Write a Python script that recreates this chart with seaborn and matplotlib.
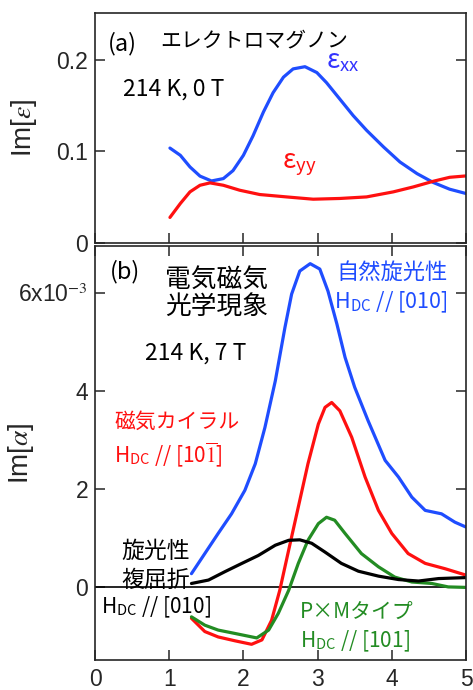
import numpy as np
import pandas as pd
import seaborn as sns
import matplotlib
matplotlib.use("Agg")
import matplotlib.pyplot as plt

# ---------------- data ----------------
# panel (a): Im[eps], 214 K, 0 T
exx_x = [1.01, 1.15, 1.28, 1.415, 1.57, 1.73, 1.86, 2.00, 2.13, 2.27, 2.40, 2.54, 2.67, 2.83, 2.99,
         3.12, 3.30, 3.48, 3.66, 3.89, 4.11, 4.34, 4.56, 4.78, 5.0]
exx_y = [0.1036, 0.0957, 0.083, 0.073, 0.0677, 0.0703, 0.079, 0.0957, 0.117, 0.143, 0.164, 0.181, 0.190,
         0.1924, 0.186, 0.175, 0.157, 0.139, 0.123, 0.1047, 0.0884, 0.0757, 0.066, 0.0587, 0.054]
eyy_x = [1.01, 1.15, 1.28, 1.415, 1.55, 1.73, 1.95, 2.22, 2.58, 2.94, 3.30, 3.66, 4.02, 4.29, 4.56,
         4.78, 5.0]
eyy_y = [0.0279, 0.0431, 0.0558, 0.063, 0.0656, 0.063, 0.0576, 0.0529, 0.0503, 0.0478, 0.0486, 0.0503,
         0.0558, 0.0612, 0.0674, 0.0717, 0.0732]

# panel (b): Im[alpha] (units of 1e-3), 214 K, 7 T
nat_x = [1.30, 1.48, 1.66, 1.84, 2.02, 2.16, 2.29, 2.43, 2.56, 2.65, 2.76, 2.90, 3.03, 3.14, 3.26,
         3.37, 3.50, 3.68, 3.91, 4.09, 4.27, 4.45, 4.67, 4.85, 5.0]
nat_y = [0.27, 0.68, 1.09, 1.49, 1.97, 2.51, 3.25, 4.20, 5.29, 5.97, 6.44, 6.59, 6.48, 6.03, 5.36,
         4.68, 4.07, 3.39, 2.58, 2.24, 1.83, 1.56, 1.49, 1.32, 1.22]
mch_x = [1.30, 1.48, 1.66, 1.89, 2.11, 2.25, 2.38, 2.49, 2.61, 2.74, 2.87, 3.01, 3.10, 3.19, 3.30,
         3.46, 3.64, 3.82, 4.00, 4.22, 4.45, 4.72, 5.0]
mch_y = [-0.64, -0.91, -1.02, -1.10, -1.17, -1.08, -0.68, -0.07, 0.75, 1.63, 2.51, 3.32, 3.66, 3.76, 3.59,
         3.05, 2.24, 1.56, 1.09, 0.68, 0.48, 0.37, 0.24]
pm_x = [1.30, 1.48, 1.66, 1.89, 2.18, 2.34, 2.47, 2.61, 2.74, 2.87, 3.01, 3.12, 3.23, 3.37, 3.59,
        3.82, 4.04, 4.27, 4.54, 4.76, 5.0]
pm_y = [-0.61, -0.78, -0.88, -0.95, -1.04, -0.88, -0.54, -0.07, 0.48, 0.95, 1.29, 1.42, 1.36, 1.09, 0.68,
        0.41, 0.20, 0.10, 0.07, 0.0, -0.01]
bir_x = [1.30, 1.53, 1.75, 1.98, 2.20, 2.43, 2.61, 2.76, 2.92, 3.10, 3.32, 3.55, 3.82, 4.09, 4.36,
         4.63, 5.0]
bir_y = [0.07, 0.14, 0.31, 0.48, 0.64, 0.85, 0.95, 0.96, 0.89, 0.71, 0.48, 0.32, 0.22, 0.15, 0.12,
         0.17, 0.19]

x_ticks = [0, 1, 2, 3, 4, 5]
x_ticklabels = ["0", "1", "2", "3", "4", "5"]
a_yticks = [0, 0.1, 0.2]
a_yticklabels = ["0", "0.1", "0.2"]
b_yticks = [0, 2, 4, 6]
b_yticklabels = ["0", "2", "4", "6x10$^{-3}$"]

# ---------------- style ----------------
sns.set_style("ticks")
plt.rcParams["font.family"] = ["Liberation Sans", "Noto Sans CJK JP", "DejaVu Sans"]
plt.rcParams["mathtext.fontset"] = "stix"
plt.rcParams["lines.solid_joinstyle"] = "round"
plt.rcParams["lines.solid_capstyle"] = "round"
JP = ["Noto Sans CJK JP", "DejaVu Sans"]

BLUE = "#1f4dff"
RED = "#ff1010"
GREEN = "#238c23"
BLACK = "#000000"
LW = 2.3

fig = plt.figure(figsize=(4.73, 6.9), dpi=100)
axa = fig.add_axes([95 / 473, 1 - 243 / 690, 371 / 473, 230 / 690])
axb = fig.add_axes([95 / 473, 1 - 660 / 690, 371 / 473, 414 / 690])


def line(ax, xs, ys, color):
    df = pd.DataFrame({"x": xs, "y": ys})
    sns.lineplot(data=df, x="x", y="y", ax=ax, color=color, lw=LW, sort=False,
                 estimator=None)


line(axa, exx_x, exx_y, BLUE)
line(axa, eyy_x, eyy_y, RED)

axb.axhline(0, color="black", lw=1.2, zorder=1)
line(axb, nat_x, nat_y, BLUE)
line(axb, mch_x, mch_y, RED)
line(axb, pm_x, pm_y, GREEN)
line(axb, bir_x, bir_y, BLACK)

for ax in (axa, axb):
    ax.set_xlim(0, 5)
    ax.set_xticks(x_ticks)
    ax.tick_params(direction="in", length=7, width=1.1, labelsize=16.5, pad=5,
                   top=False, right=True)
    for s in ax.spines.values():
        s.set_linewidth(1.2)
        s.set_visible(True)
    ax.set_xlabel("")

axa.set_ylim(0, 0.251)
axa.set_yticks(a_yticks)
axa.set_yticklabels(a_yticklabels)
axa.set_xticklabels([])
axa.set_ylabel(r"Im[$\varepsilon$]", fontsize=20)

axb.set_ylim(-1.49, 6.95)
axb.set_yticks(b_yticks)
axb.set_yticklabels(b_yticklabels)
axb.set_xticklabels(x_ticklabels)
axb.tick_params(axis="x", top=True, pad=6)
axb.set_ylabel(r"Im[$\alpha$]", fontsize=20)
axa.yaxis.set_label_coords(-0.15, 0.5)
axb.yaxis.set_label_coords(-0.16, 0.5)

# ---------------- annotations ----------------
def t(ax, x, y, s, color="black", size=15, fam=JP):
    ax.text(x, y, s, transform=ax.transAxes, color=color, fontsize=size,
            family=fam, ha="left", va="center")

t(axa, 0.035, 0.865, "(a)", size=17)
t(axa, 0.175, 0.88, "エレクトロマグノン", size=15)
t(axa, 0.075, 0.67, "214 K, 0 T", size=16.5)
t(axa, 0.622, 0.79, r"ε$_{\mathregular{xx}}$", color="#3333ff", size=19)
t(axa, 0.503, 0.34, r"ε$_{\mathregular{yy}}$", color=RED, size=19)

t(axb, 0.04, 0.937, "(b)", size=17)
t(axb, 0.19, 0.918, "電気磁気", size=18.5)
t(axb, 0.19, 0.852, "光学現象", size=18.5)
t(axb, 0.135, 0.742, "214 K, 7 T", size=16.5)
t(axb, 0.65, 0.937, "自然旋光性", color=BLUE, size=16)
t(axb, 0.645, 0.865, r"H$_{\mathregular{DC}}$ // [010]", color=BLUE, size=15.5)
t(axb, 0.052, 0.575, "磁気カイラル", color=RED, size=15)
t(axb, 0.052, 0.495, r"H$_{\mathregular{DC}}$ // [10$\overline{1}$]", color=RED, size=15)
t(axb, 0.07, 0.261, "旋光性", size=16.5)
t(axb, 0.07, 0.193, "複屈折", size=16.5)
t(axb, 0.015, 0.128, r"H$_{\mathregular{DC}}$ // [010]", size=15)
t(axb, 0.553, 0.116, "P×Mタイプ", color=GREEN, size=15)
t(axb, 0.553, 0.046, r"H$_{\mathregular{DC}}$ // [101]", color=GREEN, size=15)

fig.savefig("out.png", dpi=100)
